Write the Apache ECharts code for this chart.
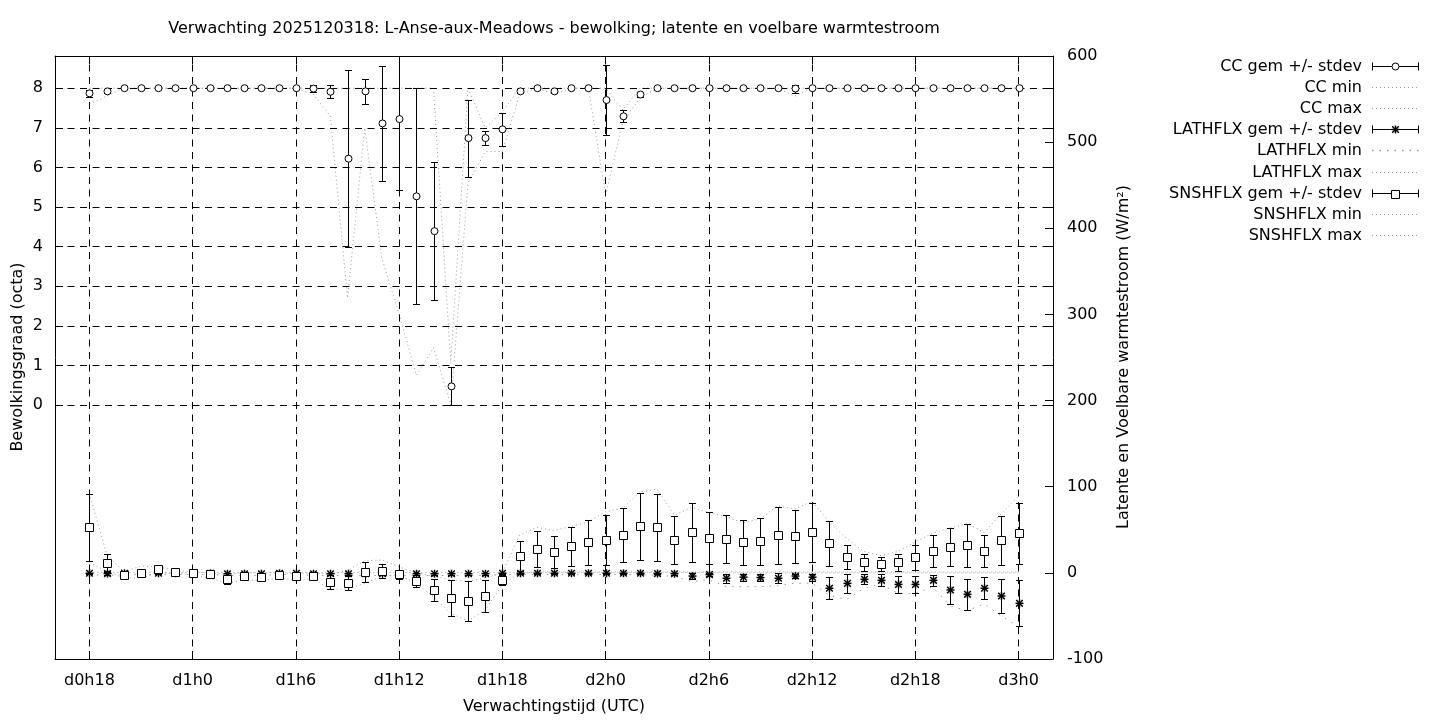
<!DOCTYPE html>
<html><head><meta charset="utf-8">
<script src="https://cdn.jsdelivr.net/npm/echarts@6/dist/echarts.min.js"></script>
<style>html,body{margin:0;padding:0;background:#fff}#c{width:1440px;height:720px}</style>
</head><body><div id="c"></div>
<script>
// ---- data (hours since d0h0) ----
const hours = [18,19,20,21,22,23,24,25,26,27,28,29,30,
  31,32,33,34,35,36,37,38,39,40,41,42,43,44,45,
  46,47,48,49,50,51,52,53,54,55,56,57,58,59,
  60,61,62,63,64,65,66,67,68,69,70,71,72];
const xTicks = [18,24,30,36,42,48,54,60,66,72];
const xTickLabels = ['d0h18','d1h0','d1h6','d1h12','d1h18','d2h0','d2h6','d2h12','d2h18','d3h0'];
const ccTicks = [0,1,2,3,4,5,6,7,8];

const ccMean = [7.87,7.92,8,8,8,8,8,8,8,8,8,8,8,
  7.99,7.91,6.22,7.92,7.11,7.22,5.27,4.39,0.47,6.74,6.74,6.96,7.92,8,7.92,
  8,8,7.70,7.29,7.84,8,8,8,8,8,8,8,8,7.99,
  8,8,8,8,8,8,8,8,8,8,8,8,8];
const ccSd = [0.08,0.05,0,0,0,0,0,0,0,0,0,0,0,
  0.09,0.16,2.24,0.32,1.45,1.78,2.73,1.75,0.48,0.97,0.17,0.42,0.05,0,0.05,
  0,0,0.89,0.15,0.05,0,0,0,0,0,0,0,0,0.1,
  0,0,0,0,0,0,0,0,0,0,0,0,0];
const ccMin = [7.6,7.8,8,8,8,8,8,8,8,8,8,8,8,
  7.85,7.3,2.7,7.0,3.7,2.3,0.75,1.45,0,5.6,6.4,6.4,7.85,8,7.85,
  8,8,5.3,7.15,7.75,8,8,8,8,8,8,8,8,7.8,
  8,8,8,8,8,8,8,8,8,8,8,8,8];
const ccMax = [8,8,8,8,8,8,8,8,8,8,8,8,8,
  8,8,8,8,8,8,8,8,1.05,8,7.0,7.4,8,8,8,
  8,8,8,7.45,8,8,8,8,8,8,8,8,8,8,
  8,8,8,8,8,8,8,8,8,8,8,8,8];

const lthMean = [-0.5,-0.8,-0.5,-0.5,-0.5,-0.5,-0.5,-0.5,-1,-1,-1,-0.5,-0.5,
  -1,-1,-1,-1,-1,-1,-1,-1,-1,-1,-1,-0.5,-0.5,-0.5,-0.5,
  -0.5,-0.5,-0.5,-0.5,-0.5,-0.8,-1,-3.7,-2,-6.3,-5,-5.5,-6.3,-3.7,
  -5,-17.9,-12.2,-7.5,-8.7,-13.4,-13.4,-8.7,-19.9,-24.9,-17.9,-26.9,-35.4];
const lthSd = [0.5,2,0.5,0.5,0.5,0.5,0.5,0.5,1,1,1,0.5,0.5,
  1,1,1,1,1,1,1,1,1,1,1,0.5,0.5,0.5,0.5,
  0.5,0.5,0.5,0.5,0.5,0.5,1,3,2,5,4,4,6,2,
  4,13,11,6,7,9.7,10,6,16,18,12.7,20,26.6];
const lthMin = [-2,-3,-2,-2,-2,-2,-2,-2,-3,-3,-3,-2,-2,
  -3,-3,-3,-3,-3,-3,-3,-3,-3,-3,-3,-2,-2,-2,-2,
  -2,-2,-2,-2,-2,-3,-4,-10,-8,-16,-16,-16,-15,-12,
  -12,-26,-31,-18,-13,-24,-24,-16,-38,-44,-36,-50,-63];
const lthMax = [0.5,0.5,0.5,0.5,0.5,0.5,0.5,0.5,0.5,0.5,0.5,0.5,0.5,
  0.5,0.5,0.5,0.5,0.5,0.5,0.5,0.5,0.5,0.5,0.5,0.5,0.5,0.5,0.5,
  0.5,0.5,0.5,0.5,0.5,0.5,0.5,0.3,0.3,0,0,0,0,0,
  0,0,0,0,0,0,0,0,0,0,0,0,0];

const snsMean = [53,12,-3,0,4,0.5,-0.5,-1.6,-7.5,-3.7,-4.5,-2.6,-3.7,
  -3.5,-11,-12,0.7,2.2,-1.6,-9.5,-20,-29.6,-32.7,-26.9,-8.3,19.6,27.7,24.2,
  30.8,35.5,38.1,44,54,53,37.8,47.1,40.1,39,35.5,36.6,43.6,42.4,
  47.1,34.3,18.1,12.3,10,12.3,18.1,25.4,30,32,25.4,37.8,45.9];
const snsSd = [38.7,10,1,5,2,1,1,1,5,2,4,2,2,
  3,8,8,11.6,8.5,5,7,13,21,23.6,19,6,17,21,18.4,
  23,26,29,31,39,39,28,34,30,28,26,27,33,31,
  34,26,14,9.6,8,10,14.5,19,21.7,24.7,19,28.6,35.4];
const snsMin = [12,2,-6,-6,0,-1,-2,-6,-12,-8,-9,-6,-8,
  -7,-19,-19,-12,-4,-3,-12,-28,-47,-56,-43,-14,0,1,1,
  1,1,1,1,1,1,1,1,1,1,1,1,1,1,
  1,1,1,1,1,1,1,1,1,1,1,1,1];
const snsMax = [92,22,1,8,7,3,1,0,-2,0,0,0,-1,
  0,-2,3,14,15,7,0,-4,-8,-10,-6,0,44,53,49,
  54,59,71,75,94,97,67,76,70,65,58,63,78,74,
  83,59,40,25,20,25,36,46,52,57,47,69,89];

const legendLabels = ['CC gem +/- stdev','CC min','CC max','LATHFLX gem +/- stdev','LATHFLX min','LATHFLX max','SNSHFLX gem +/- stdev','SNSHFLX min','SNSHFLX max'];

// ---- helpers ----
const FONT = '"DejaVu Sans", "Liberation Sans", sans-serif';
const FS = 16;
const GREY = '#9a9a9a';
const DOTS = [1, 3];
const SPARSE = [1.5, 6];
const pairs = (ys) => hours.map((h, i) => [h, ys[i]]);
const triples = (m, s) => hours.map((h, i) => [h, m[i], s[i]]);

function markerShapes(kind, px, py) {
  const st = {stroke: '#000', lineWidth: 1, fill: '#fff'};
  if (kind === 'circle') return [{type: 'circle', shape: {cx: px, cy: py, r: 3.5}, style: st}];
  if (kind === 'square') {
    const cy = Math.round(py) + 0.5;
    return [{type: 'rect', shape: {x: px - 4, y: cy - 4, width: 8, height: 8}, style: st}];
  }
  const a = 4, d = 3.3;
  const ls = {stroke: '#000', lineWidth: 1.5};
  return [
    {type: 'line', shape: {x1: px - a, y1: py, x2: px + a, y2: py}, style: ls},
    {type: 'line', shape: {x1: px, y1: py - a, x2: px, y2: py + a}, style: ls},
    {type: 'line', shape: {x1: px - d, y1: py - d, x2: px + d, y2: py + d}, style: ls},
    {type: 'line', shape: {x1: px - d, y1: py + d, x2: px + d, y2: py - d}, style: ls}
  ];
}

function makeErr(kind) {
  return function (params, api) {
    const x = api.value(0), m = api.value(1), s = api.value(2);
    const c = api.coord([x, m]);
    const t = api.coord([x, m + s]);
    const b = api.coord([x, m - s]);
    const px = Math.round(c[0]) + 0.5;
    const ty = Math.round(t[1]) + 0.5, by = Math.round(b[1]) + 0.5;
    const ls = {stroke: '#000', lineWidth: 1};
    const ch = [
      {type: 'line', shape: {x1: px, y1: ty, x2: px, y2: by}, style: ls},
      {type: 'line', shape: {x1: px - 3.5, y1: ty, x2: px + 3.5, y2: ty}, style: ls},
      {type: 'line', shape: {x1: px - 3.5, y1: by, x2: px + 3.5, y2: by}, style: ls}
    ].concat(markerShapes(kind, px, c[1]));
    return {type: 'group', children: ch};
  };
}

function dotted(name, ys, yIdx, dash) {
  return {
    name, type: 'line', yAxisIndex: yIdx, data: pairs(ys), symbol: 'none', silent: true,
    lineStyle: {color: GREY, width: 1, type: dash || DOTS}, z: 2
  };
}

// ---- legend graphics ----
const legendGraphics = [];
const LX0 = 1372, LX1 = 1419, LTX = 1362;
const legendKinds = ['circle', 'dot', 'dot', 'star', 'sparse', 'dot', 'square', 'dot', 'dot'];
legendLabels.forEach((lab, i) => {
  const y = Math.round(66 + i * 21.1) + 0.5;
  legendGraphics.push({type: 'text', x: LTX, y: y, style: {text: lab, fill: '#000', fontSize: FS, fontFamily: FONT, align: 'right', verticalAlign: 'middle'}});
  const k = legendKinds[i];
  if (k === 'dot' || k === 'sparse') {
    legendGraphics.push({type: 'line', shape: {x1: LX0, y1: y, x2: LX1, y2: y}, style: {stroke: GREY, lineWidth: k === 'sparse' ? 1.5 : 1, lineDash: k === 'sparse' ? SPARSE : DOTS}});
  } else {
    const ls = {stroke: '#000', lineWidth: 1};
    legendGraphics.push({type: 'line', shape: {x1: LX0, y1: y, x2: LX1, y2: y}, style: ls});
    legendGraphics.push({type: 'line', shape: {x1: LX0 + 0.5, y1: y - 4, x2: LX0 + 0.5, y2: y + 4}, style: ls});
    legendGraphics.push({type: 'line', shape: {x1: LX1 - 0.5, y1: y - 4, x2: LX1 - 0.5, y2: y + 4}, style: ls});
    markerShapes(k, 1395.5, y).forEach(s => legendGraphics.push(s));
  }
});

const titleText = 'Verwachting 2025120318: L-Anse-aux-Meadows - bewolking; latente en voelbare warmtestroom';

const textGraphics = [
  {type: 'text', x: 554, y: 29, style: {text: titleText, fill: '#000', fontSize: FS, fontFamily: FONT, align: 'center', verticalAlign: 'middle'}},
  {type: 'text', x: 554, y: 707, style: {text: 'Verwachtingstijd (UTC)', fill: '#000', fontSize: FS, fontFamily: FONT, align: 'center', verticalAlign: 'middle'}},
  {type: 'text', x: 18, y: 357, rotation: Math.PI / 2, style: {text: 'Bewolkingsgraad (octa)', fill: '#000', fontSize: FS, fontFamily: FONT, align: 'center', verticalAlign: 'middle'}},
  {type: 'text', x: 1124, y: 357, rotation: Math.PI / 2, style: {text: 'Latente en Voelbare warmtestroom (W/m²)', fill: '#000', fontSize: FS, fontFamily: FONT, align: 'center', verticalAlign: 'middle'}}
];

const axLine = {show: true, onZero: false, lineStyle: {color: '#000', width: 1}};
const labelStyle = {color: '#000', fontSize: FS, fontFamily: FONT};

const chart = echarts.init(document.getElementById('c'), null, {renderer: 'canvas'});
chart.setOption({
  animation: false,
  backgroundColor: '#fff',
  grid: {left: 55, right: 387, top: 56, bottom: 61, containLabel: false},
  xAxis: [
    {type: 'value', position: 'bottom', min: 16, max: 74, axisLine: axLine,
      axisTick: {show: true, inside: true, length: 8, customValues: xTicks, lineStyle: {color: '#000'}},
      axisLabel: Object.assign({customValues: xTicks, margin: 14, formatter: (v) => xTickLabels[xTicks.indexOf(v)]}, labelStyle),
      splitLine: {show: false}},
    {type: 'value', position: 'top', min: 16, max: 74, axisLine: axLine,
      axisTick: {show: true, inside: true, length: 8, customValues: xTicks, lineStyle: {color: '#000'}},
      axisLabel: {show: false}, splitLine: {show: false}}
  ],
  yAxis: [
    {type: 'value', position: 'left', min: -6.414, max: 8.813, axisLine: axLine,
      axisTick: {show: true, inside: true, length: 8, customValues: ccTicks, lineStyle: {color: '#000'}},
      axisLabel: Object.assign({customValues: ccTicks, margin: 12}, labelStyle),
      splitLine: {show: false}},
    {type: 'value', position: 'right', min: -100, max: 600, interval: 100, axisLine: axLine,
      axisTick: {show: true, inside: true, length: 8, lineStyle: {color: '#000'}},
      axisLabel: Object.assign({margin: 14}, labelStyle),
      splitLine: {show: false}},
    {type: 'value', position: 'right', offset: 0, min: -6.414, max: 8.813, axisLine: {show: false, onZero: false},
      axisTick: {show: true, inside: true, length: 8, customValues: ccTicks, lineStyle: {color: '#000'}},
      axisLabel: {show: false}, splitLine: {show: false}}
  ],
  series: [
    {
      name: 'grid', type: 'line', yAxisIndex: 0, data: [], silent: true, z: 1,
      markLine: {
        silent: true, symbol: ['none', 'none'], label: {show: false}, animation: false,
        lineStyle: {color: '#000', width: 1, type: [7, 5.5]},
        data: xTicks.map(v => ({xAxis: v})).concat(ccTicks.map(v => ({yAxis: v})))
      }
    },
    dotted('CC min', ccMin, 0),
    dotted('CC max', ccMax, 0),
    dotted('LATHFLX min', lthMin, 1, SPARSE),
    dotted('LATHFLX max', lthMax, 1),
    dotted('SNSHFLX min', snsMin, 1),
    dotted('SNSHFLX max', snsMax, 1),
    {name: 'CC gem +/- stdev', type: 'custom', yAxisIndex: 0, clip: true, z: 5, silent: true,
      renderItem: makeErr('circle'), data: triples(ccMean, ccSd)},
    {name: 'LATHFLX gem +/- stdev', type: 'custom', yAxisIndex: 1, clip: true, z: 5, silent: true,
      renderItem: makeErr('star'), data: triples(lthMean, lthSd)},
    {name: 'SNSHFLX gem +/- stdev', type: 'custom', yAxisIndex: 1, clip: true, z: 6, silent: true,
      renderItem: makeErr('square'), data: triples(snsMean, snsSd)}
  ],
  graphic: textGraphics.concat(legendGraphics)
});
</script>
</body></html>
